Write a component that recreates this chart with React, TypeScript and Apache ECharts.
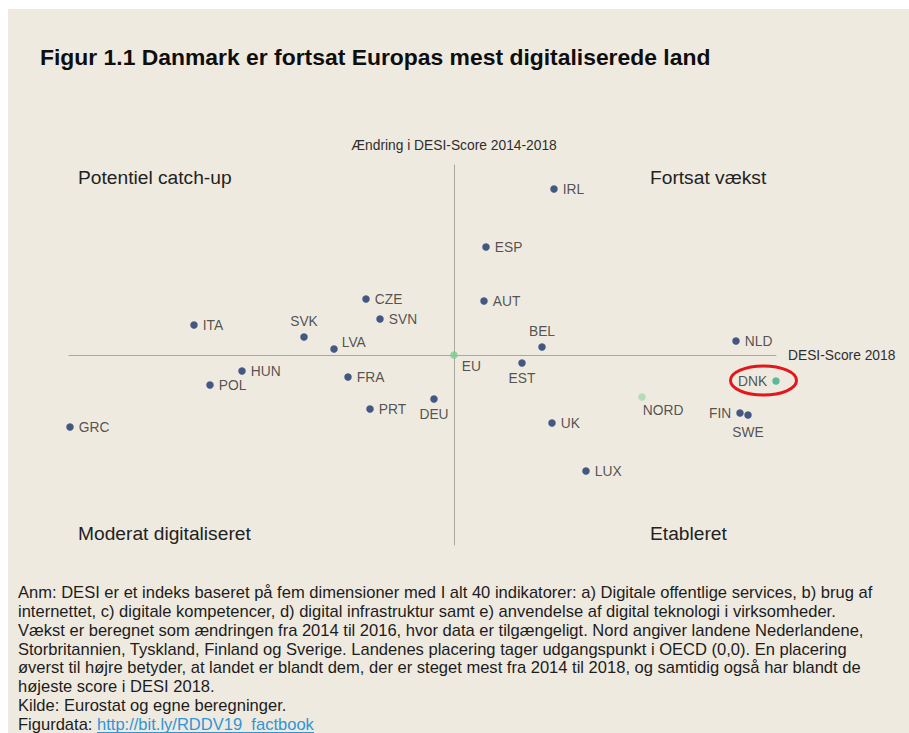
import React, { useEffect, useRef } from 'react';
import * as echarts from 'echarts';

// ---- data ----
const countries = ['GRC', 'ITA', 'POL', 'HUN', 'SVK', 'LVA', 'FRA', 'CZE', 'PRT', 'SVN', 'DEU', 'EU', 'AUT', 'ESP', 'EST', 'BEL', 'UK', 'IRL', 'LUX', 'NORD', 'NLD', 'FIN', 'SWE', 'DNK'];
const desiScore2018 = [-19.2, -13.0, -12.2, -10.6, -7.5, -6.0, -5.3, -4.4, -4.2, -3.7, -1.0, 0, 1.5, 1.6, 3.4, 4.4, 4.9, 5.0, 6.6, 9.4, 14.1, 14.3, 14.7, 16.1];
const change20142018 = [-3.6, 1.5, -1.5, -0.8, 0.9, 0.3, -1.1, 2.8, -2.7, 1.8, -2.2, 0, 2.7, 5.4, -0.4, 0.4, -3.4, 8.3, -5.8, -2.1, 0.7, -2.9, -3.0, -1.3];

const titleText = 'Figur 1.1 Danmark er fortsat Europas mest digitaliserede land';
const xAxisName = 'DESI-Score 2018';
const yAxisName = 'Ændring i DESI-Score 2014-2018';
const quadrantLabels = ['Potentiel catch-up', 'Fortsat vækst', 'Moderat digitaliseret', 'Etableret'];
const noteLines = [
  'Anm: DESI er et indeks baseret på fem dimensioner med I alt 40 indikatorer: a) Digitale offentlige services, b) brug af',
  'internettet, c) digitale kompetencer, d) digital infrastruktur samt e) anvendelse af digital teknologi i virksomheder.',
  'Vækst er beregnet som ændringen fra 2014 til 2016, hvor data er tilgængeligt. Nord angiver landene Nederlandene,',
  'Storbritannien, Tyskland, Finland og Sverige. Landenes placering tager udgangspunkt i OECD (0,0). En placering',
  'øverst til højre betyder, at landet er blandt dem, der er steget mest fra 2014 til 2018, og samtidig også har blandt de',
  'højeste score i DESI 2018.',
  'Kilde: Eurostat og egne beregninger.',
];
const figurdataLabel = 'Figurdata: ';
const figurdataLink = 'http://bit.ly/RDDV19_factbook';
const highlighted = 'DNK';

// ---- styles ----
const FONT = '"Liberation Sans", Arial, Helvetica, sans-serif';
const NAVY = '#16336a';
const specialColors: Record<string, string> = { EU: '#79cc90', NORD: '#a6d8b0', DNK: '#36ad86' };
const labelPlacement: Record<string, any> = {
  SVK: { position: 'top' },
  BEL: { position: 'top' },
  EST: { position: 'bottom' },
  DEU: { position: 'bottom' },
  SWE: { position: 'bottom', offset: [0, 2] },
  EU: { position: 'right', offset: [-1, 11] },
  NORD: { position: 'right', offset: [-8, 13] },
  DNK: { position: 'left' },
  FIN: { position: 'left' },
  LVA: { position: 'right', offset: [-1, -7] },
};

export default function App() {
  const ref = useRef<HTMLDivElement>(null);

  useEffect(() => {
    if (!ref.current) return;
    const chart = echarts.init(ref.current, null, { renderer: 'svg' });

    const data = countries.map((c, i) => {
      const lp = labelPlacement[c] || { position: 'right' };
      return {
        name: c,
        value: [desiScore2018[i], change20142018[i]],
        itemStyle: { color: specialColors[c] || NAVY },
        label: { position: lp.position, offset: lp.offset || [0, 0] },
      };
    });

    const textStyle = (size: number, color: string, extra: any = {}) => ({
      fontFamily: FONT,
      fontSize: size,
      fill: color,
      verticalAlign: 'middle',
      ...extra,
    });

    const NOTE_SIZE = 16.55;
    const NOTE_TOP = 592.5;
    const NOTE_STEP = 18.85;

    const graphics: any[] = [
      { id: 'title', type: 'text', x: 40, y: 57, style: { text: titleText, ...textStyle(22.9, '#0e0e0e', { fontWeight: 'bold' }) } },
      { id: 'q0', type: 'text', x: 78, y: 177, style: { text: quadrantLabels[0], ...textStyle(19.2, '#222222') } },
      { id: 'q1', type: 'text', x: 650, y: 177, style: { text: quadrantLabels[1], ...textStyle(19.2, '#222222') } },
      { id: 'q2', type: 'text', x: 78, y: 533, style: { text: quadrantLabels[2], ...textStyle(19.2, '#222222') } },
      { id: 'q3', type: 'text', x: 650, y: 533, style: { text: quadrantLabels[3], ...textStyle(19.2, '#222222') } },
    ];
    noteLines.forEach((t, i) => {
      graphics.push({ id: 'n' + i, type: 'text', x: 18, y: NOTE_TOP + i * NOTE_STEP, style: { text: t, ...textStyle(NOTE_SIZE, '#1c1c1c') } });
    });
    const lastY = NOTE_TOP + noteLines.length * NOTE_STEP;
    graphics.push({ id: 'fd', type: 'text', x: 18, y: lastY, style: { text: figurdataLabel, ...textStyle(NOTE_SIZE, '#1c1c1c') } });
    graphics.push({ id: 'fl', type: 'text', x: 97, y: lastY, style: { text: figurdataLink, ...textStyle(NOTE_SIZE, '#2e96d6') } });
    graphics.push({ id: 'ful', type: 'line', shape: { x1: 97, y1: 732.5, x2: 314, y2: 732.5 }, style: { stroke: '#2e96d6', lineWidth: 1 } });

    chart.setOption({
      animation: false,
      backgroundColor: 'transparent',
      textStyle: { fontFamily: FONT },
      grid: { left: 69, right: 133, top: 165, bottom: 188, containLabel: false },
      xAxis: {
        type: 'value',
        min: -19.25,
        max: 16.1,
        name: xAxisName,
        nameLocation: 'end',
        nameGap: 12,
        nameTextStyle: { fontFamily: FONT, fontSize: 13.8, color: '#2e2e2e' },
        axisLine: { show: true, onZero: true, lineStyle: { color: '#aaa9a0', width: 1 } },
        axisTick: { show: false },
        axisLabel: { show: false },
        splitLine: { show: false },
      },
      yAxis: {
        type: 'value',
        min: -9.5,
        max: 9.5,
        name: yAxisName,
        nameLocation: 'end',
        nameGap: 13,
        nameTextStyle: { fontFamily: FONT, fontSize: 13.8, color: '#2e2e2e' },
        axisLine: { show: true, onZero: true, lineStyle: { color: '#aaa9a0', width: 1 } },
        axisTick: { show: false },
        axisLabel: { show: false },
        splitLine: { show: false },
      },
      series: [
        {
          type: 'scatter',
          symbolSize: 7.5,
          data,
          label: {
            show: true,
            formatter: '{b}',
            distance: 5,
            fontFamily: FONT,
            fontSize: 13.8,
            color: '#2b2b2b',
          },
          emphasis: { disabled: true },
        },
      ],
      graphic: { elements: graphics },
    });

    const idx = countries.indexOf(highlighted);
    const p = chart.convertToPixel({ gridIndex: 0 }, [desiScore2018[idx], change20142018[idx]]) as number[];
    if (p) {
      chart.setOption({
        graphic: {
          elements: [
            {
              id: 'ring',
              type: 'ellipse',
              shape: { cx: p[0] - 12.5, cy: p[1] - 0.5, rx: 33, ry: 14.5 },
              style: { fill: 'none', stroke: '#e3161b', lineWidth: 3 },
              z: 10,
            },
          ],
        },
      });
    }

    return () => chart.dispose();
  }, []);

  return (
    <div style={{ position: 'fixed', left: 0, top: 0, width: 909, height: 733, background: '#ffffff', overflow: 'hidden' }}>
      <div style={{ position: 'absolute', left: 8, top: 9, width: 901, height: 724, background: '#efeae0' }} />
      <div ref={ref} style={{ position: 'absolute', left: 0, top: 0, width: 909, height: 733 }} />
    </div>
  );
}
